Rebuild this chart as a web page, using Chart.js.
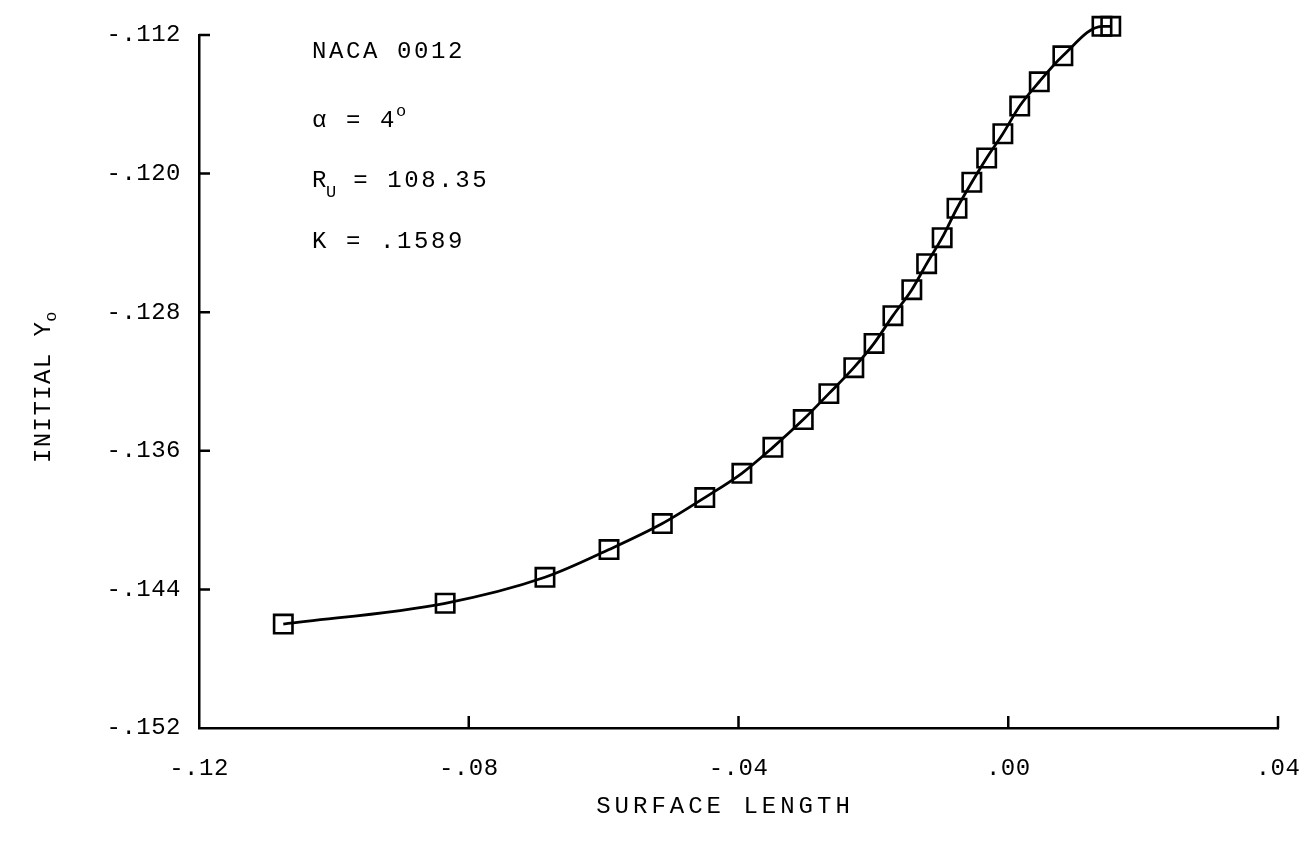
<!DOCTYPE html>
<html>
<head>
<meta charset="utf-8">
<script src="https://cdn.jsdelivr.net/npm/chart.js@4.4.1/dist/chart.umd.min.js"></script>
<style>
  html, body { margin: 0; padding: 0; background: #fff; }
  #wrap { width: 1310px; height: 847px; }
</style>
</head>
<body>
<div id="wrap"><canvas id="yo" width="1310" height="847"></canvas></div>
<script>
// values
const surfaceLength = [-0.1075, -0.0835, -0.0687, -0.0592, -0.0513, -0.0450, -0.0395, -0.0349,
  -0.0304, -0.0266, -0.0229, -0.0199, -0.0171, -0.0143, -0.0121, -0.0098, -0.0076, -0.0054,
  -0.0032, -0.0008, 0.0017, 0.0046, 0.0081, 0.0139, 0.0152];
const initialYo = [-0.1460, -0.1448, -0.1433, -0.1417, -0.1402, -0.1387, -0.1373, -0.1358,
  -0.1342, -0.1327, -0.1312, -0.1298, -0.1282, -0.1267, -0.1252, -0.1237, -0.1220, -0.1205,
  -0.1191, -0.1177, -0.1161, -0.1147, -0.1132, -0.1115, -0.1115];
const xTicks = [-0.12, -0.08, -0.04, 0.00, 0.04];
const yTicks = [-0.152, -0.144, -0.136, -0.128, -0.120, -0.112];

const FONT = '"Liberation Mono", "DejaVu Sans Mono", monospace';
Chart.defaults.font.family = FONT;
Chart.defaults.color = '#000';

function fmt(v, d) {
  return v.toFixed(d).replace('0.', '.');
}

function put(ctx, s, x, y, size, spacing) {
  ctx.font = size + 'px ' + FONT;
  ctx.letterSpacing = spacing + 'px';
  ctx.fillText(s, x, y);
  return x + ctx.measureText(s).width;
}

// inward tick marks like the original plot
const tickMarks = {
  id: 'tickMarks',
  beforeDraw(chart) {
    chart.ctx.letterSpacing = '0.5px';
  },
  beforeDatasetsDraw(chart) {
    const {ctx, chartArea, scales} = chart;
    ctx.save();
    ctx.strokeStyle = '#000';
    ctx.lineWidth = 2.5;
    ctx.beginPath();
    xTicks.forEach(v => {
      const px = scales.x.getPixelForValue(v);
      if (Math.abs(px - chartArea.left) < 2) return;
      ctx.moveTo(px, chartArea.bottom);
      ctx.lineTo(px, chartArea.bottom - 12);
    });
    yTicks.forEach(v => {
      const py = scales.y.getPixelForValue(v);
      if (Math.abs(py - chartArea.bottom) < 2) return;
      ctx.moveTo(chartArea.left, py);
      ctx.lineTo(chartArea.left + 11, py);
    });
    ctx.stroke();
    ctx.restore();
  },
  afterDraw(chart) {
    const ctx = chart.ctx;
    ctx.save();
    ctx.fillStyle = '#000';
    ctx.textAlign = 'left';
    ctx.textBaseline = 'alphabetic';

    // notes block
    put(ctx, 'NACA 0012', 312, 58, 24, 2.6);
    let x = put(ctx, '\u03b1 = 4', 312, 127, 24, 2.6);
    put(ctx, 'o', x - 1, 116, 17, 0);
    x = put(ctx, 'R', 312, 187, 24, 2.6);
    x = put(ctx, 'U', x - 3, 197, 17, 0);
    put(ctx, ' = 108.35', x, 187, 24, 2.6);
    put(ctx, 'K = .1589', 312, 248, 24, 2.6);

    // axis titles
    ctx.textAlign = 'center';
    put(ctx, 'SURFACE LENGTH', 725, 813, 24, 4);

    ctx.translate(42, 392);
    ctx.rotate(-Math.PI / 2);
    ctx.textAlign = 'left';
    x = put(ctx, 'INITIAL Y', -71, 8, 24, 1.4);
    put(ctx, 'o', x - 1, 14, 17, 0);
    ctx.restore();
  }
};

const points = surfaceLength.map((s, i) => ({x: s, y: initialYo[i]}));

new Chart(document.getElementById('yo'), {
  type: 'line',
  data: {
    datasets: [{
      data: points,
      borderColor: '#000',
      borderWidth: 2.8,
      cubicInterpolationMode: 'monotone',
      pointStyle: 'rect',
      pointRadius: 13,
      pointBorderWidth: 2.6,
      pointBorderColor: '#000',
      pointBackgroundColor: 'rgba(0,0,0,0)',
      clip: false
    }]
  },
  options: {
    responsive: false,
    devicePixelRatio: 1,
    animation: false,
    layout: { padding: { top: 35, right: 32, left: 0, bottom: 0 } },
    plugins: { legend: { display: false }, tooltip: { enabled: false } },
    scales: {
      x: {
        type: 'linear',
        min: -0.12,
        max: 0.04,
        afterBuildTicks: s => { s.ticks = xTicks.map(v => ({value: v})); },
        afterFit: s => { s.height = 119; s.paddingLeft = 0; s.paddingRight = 0; },
        grid: { display: false, drawTicks: false },
        border: { display: true, color: '#000', width: 2.5 },
        ticks: { callback: v => fmt(v, 2), padding: 26, font: { size: 24 }, maxRotation: 0 }
      },
      y: {
        type: 'linear',
        min: -0.152,
        max: -0.112,
        afterBuildTicks: s => { s.ticks = yTicks.map(v => ({value: v})); },
        afterFit: s => { s.width = 199; s.paddingTop = 0; s.paddingBottom = 0; },
        grid: { display: false, drawTicks: false },
        border: { display: true, color: '#000', width: 2.5 },
        ticks: { callback: v => fmt(v, 3), padding: 18, font: { size: 24 } }
      }
    }
  },
  plugins: [tickMarks]
});
</script>
</body>
</html>
